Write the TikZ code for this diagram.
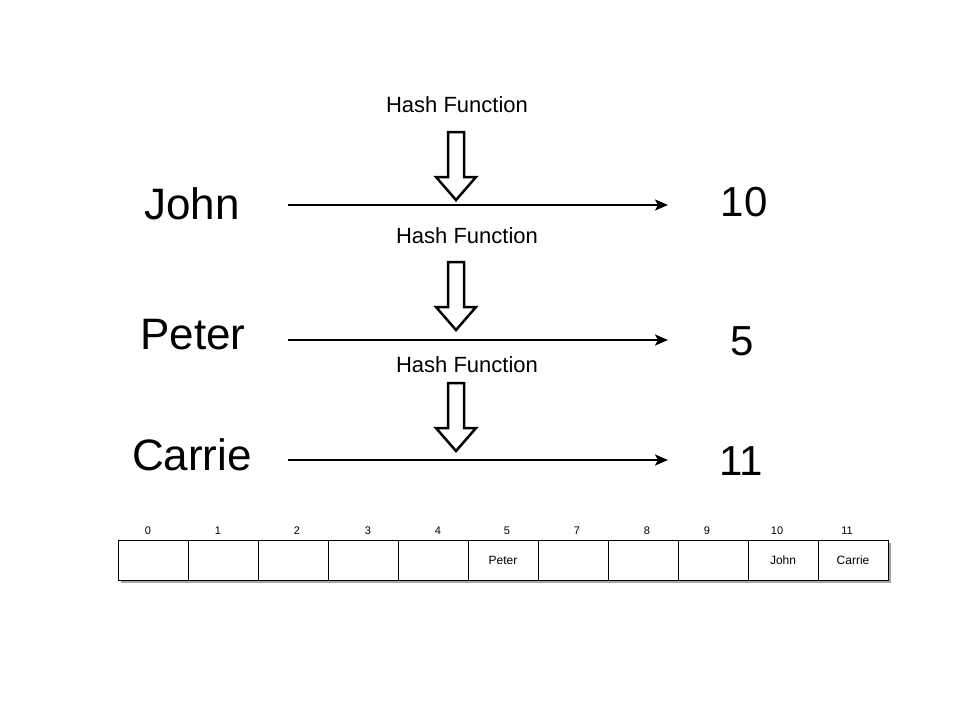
\documentclass[tikz,border=0pt]{standalone}
\usepackage{fontspec}
\setmainfont{Liberation Sans}
\usetikzlibrary{shadows, arrows.meta}

\tikzset{
  bigname/.style={font=\fontsize{44}{48}\selectfont},
  bignum/.style={font=\fontsize{42}{46}\selectfont},
  hashlabel/.style={font=\fontsize{22}{25}\selectfont},
  mapline/.style={line width=2pt, -{Stealth[length=13pt, width=11pt, inset=3pt]}},
  blockarrow/.style={draw, line width=2.5pt, fill=white, line join=miter},
  cell/.style={draw, line width=1pt, fill=white, minimum width=70pt, minimum height=40pt, outer sep=0pt,
    font=\fontsize{12}{14}\selectfont,
    drop shadow={shadow xshift=3pt, shadow yshift=-3pt, fill=black!35, opacity=1}},
  idx/.style={font=\fontsize{11}{13}\selectfont},
}

\begin{document}
\begin{tikzpicture}[x=1pt, y=-1pt]
    \useasboundingbox (0,0) rectangle (973,709);

    % names and hash values
    \node[bigname] (john) at (192,204) {John};
    \node[bigname] (peter) at (193,335) {Peter};
    \node[bigname] (carrie) at (192,455) {Carrie};
    \node[bignum] (ten) at (744,202) {10};
    \node[bignum] (five) at (742,341) {5};
    \node[bignum] (eleven) at (741,461) {11};

    \node[hashlabel] (hashA) at (457,105) {Hash Function};
    \node[hashlabel] (hashB) at (467,236) {Hash Function};
    \node[hashlabel] (hashC) at (467,365) {Hash Function};

    \coordinate (johnOut) at (288,205);
    \coordinate (johnIn) at (668,205);
    \coordinate (peterOut) at (288,340);
    \coordinate (peterIn) at (668,340);
    \coordinate (carrieOut) at (288,460);
    \coordinate (carrieIn) at (668,460);

    \draw[mapline] (johnOut) -- (johnIn);
    \draw[mapline] (peterOut) -- (peterIn);
    \draw[mapline] (carrieOut) -- (carrieIn);

    % hollow down arrows
    \foreach \t in {132,262,383}
        \draw[blockarrow] (448,\t) -- (464,\t) -- (464,{\t+45}) -- (476,{\t+45})
            -- (456,{\t+68}) -- (436,{\t+45}) -- (448,{\t+45}) -- cycle;

    % the table
    \foreach \i/\lab/\dx/\txt in {0/0/-5/{}, 1/1/-5/{}, 2/2/4/{}, 3/3/5/{}, 4/4/5/{}, 5/5/4/Peter,
                                 6/7/4/{}, 7/8/4/{}, 8/9/-6/{}, 9/10/-6/John, 10/11/-6/Carrie} {
        \node[cell] (c\i) at ({153+70*\i},560) {\txt};
        \node[idx] (n\i) at ({153+70*\i+\dx},531) {\lab};
    }
\end{tikzpicture}
\end{document}
